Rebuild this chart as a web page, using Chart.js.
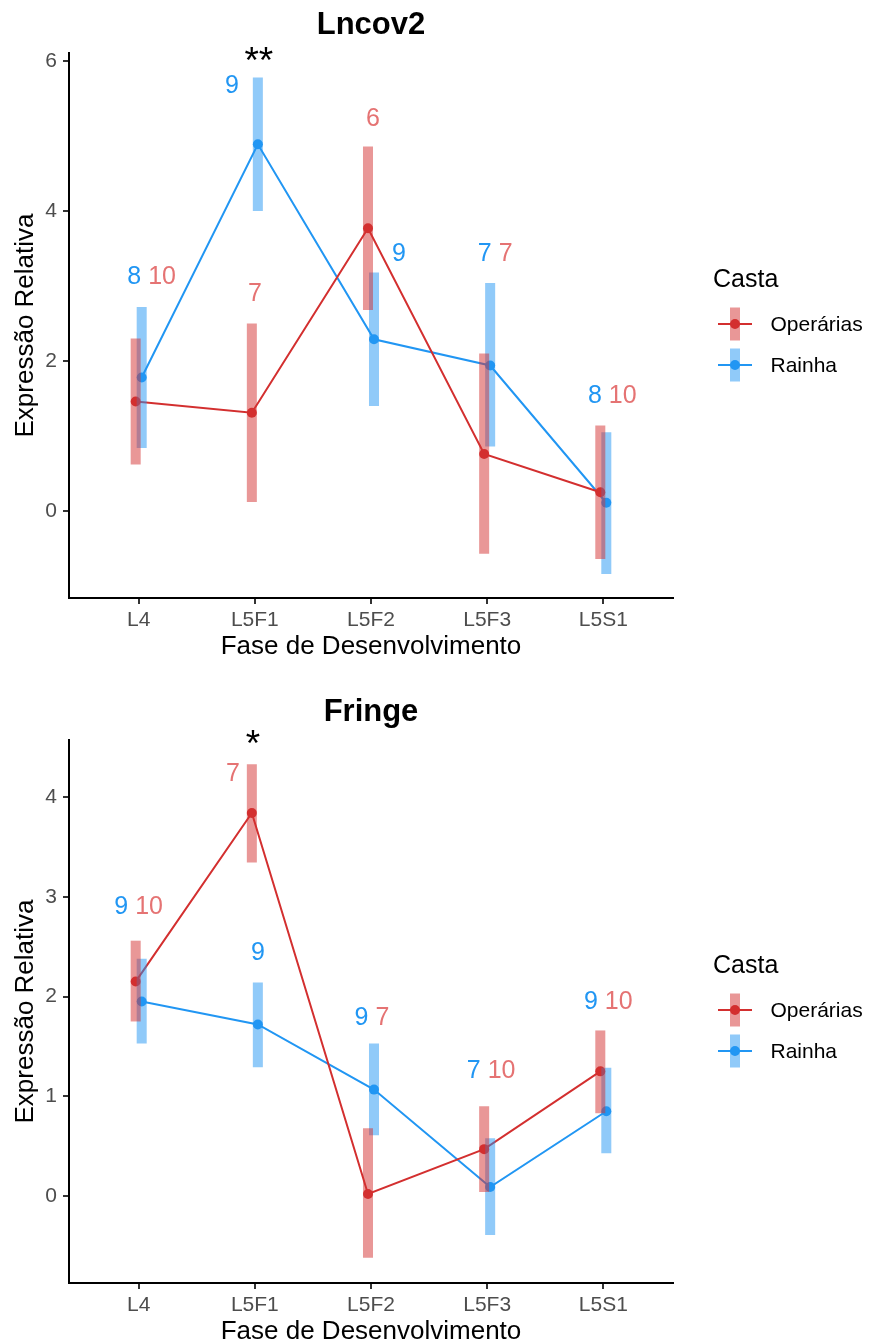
<!DOCTYPE html>
<html>
<head>
<meta charset="utf-8">
<script src="https://cdn.jsdelivr.net/npm/chart.js@4.4.0/dist/chart.umd.min.js"></script>
<style>
html,body{margin:0;padding:0;background:#fff;}
.wrap{position:absolute;left:0;width:869px;height:672px;}
canvas{display:block;}
</style>
</head>
<body>
<div class="wrap" style="top:0"><canvas id="c1" width="869" height="672"></canvas></div>
<div class="wrap" style="top:672px"><canvas id="c2" width="869" height="672"></canvas></div>
<script>
// ---------- data ----------
const categories = ['L4', 'L5F1', 'L5F2', 'L5F3', 'L5S1'];
const seriesNames = ['Operárias', 'Rainha'];

// Lncov2
const lncOperMean = [1.46, 1.31, 3.77, 0.76, 0.25];
const lncOperLow  = [0.62, 0.12, 2.68, -0.57, -0.64];
const lncOperHigh = [2.30, 2.50, 4.86, 2.10, 1.14];
const lncRainMean = [1.78, 4.89, 2.29, 1.94, 0.11];
const lncRainLow  = [0.84, 4.00, 1.40, 0.86, -0.84];
const lncRainHigh = [2.72, 5.78, 3.18, 3.04, 1.05];
const lncNOper = [10, 7, 6, 7, 10];
const lncNRain = [8, 9, 9, 7, 8];
const lncSig = ['', '**', '', '', ''];
const lncYTicks = [0, 2, 4, 6];

// Fringe
const frOperMean = [2.15, 3.84, 0.02, 0.47, 1.25];
const frOperLow  = [1.75, 3.345, -0.62, 0.04, 0.83];
const frOperHigh = [2.56, 4.33, 0.68, 0.90, 1.66];
const frRainMean = [1.95, 1.72, 1.067, 0.09, 0.85];
const frRainLow  = [1.53, 1.29, 0.61, -0.39, 0.43];
const frRainHigh = [2.38, 2.14, 1.53, 0.58, 1.287];
const frNOper = [10, 7, 7, 10, 10];
const frNRain = [9, 9, 9, 7, 9];
const frSig = ['', '*', '', '', ''];
const frYTicks = [0, 1, 2, 3, 4];

// ---------- style ----------
const FONT = "'Liberation Sans', Arial, sans-serif";
Chart.defaults.font.family = FONT;
const RED = '#D32F2F', BLUE = '#2196F3';
const RED_BAR = 'rgba(211,47,47,0.5)', BLUE_BAR = 'rgba(33,150,243,0.5)';
const RED_TXT = '#E57373', BLUE_TXT = '#2196F3';
const CAT_PCT = 0.1034, BAR_PCT = 1.667;
const DODGE = CAT_PCT / 4;

function makeDeco(s) {
  return {
    id: 'deco',
    afterDraw(chart) {
      const {ctx, chartArea: ca, scales: {x, y}} = chart;
      const cx = (ca.left + ca.right) / 2;
      const cy = (ca.top + ca.bottom) / 2;
      ctx.save();
      // title
      ctx.fillStyle = '#000';
      ctx.textAlign = 'center';
      ctx.textBaseline = 'alphabetic';
      ctx.font = 'bold 31px ' + FONT;
      ctx.fillText(s.title, cx, ca.top - 19.5);
      // x title
      ctx.font = '26px ' + FONT;
      ctx.fillText('Fase de Desenvolvimento', cx, ca.bottom + 56);
      // y title
      ctx.save();
      ctx.translate(33, cy);
      ctx.rotate(-Math.PI / 2);
      ctx.fillText('Expressão Relativa', 0, 0);
      ctx.restore();
      // n labels
      ctx.font = '25px ' + FONT;
      ctx.textBaseline = 'middle';
      ctx.textAlign = 'left';
      s.labels.forEach(l => {
        const px = x.getPixelForValue(l.i) + l.dx;
        const py = y.getPixelForValue(l.y);
        const parts = l.parts.map(p => p === 'R'
          ? {t: String(s.nRain[l.i]), c: BLUE_TXT}
          : {t: String(s.nOper[l.i]), c: RED_TXT});
        const full = parts.map(p => p.t).join(' ');
        let start = px - ctx.measureText(full).width / 2;
        parts.forEach(p => {
          ctx.fillStyle = p.c;
          ctx.fillText(p.t, start, py);
          start += ctx.measureText(p.t + ' ').width;
        });
      });
      // significance stars
      ctx.fillStyle = '#000';
      ctx.textAlign = 'center';
      ctx.textBaseline = 'alphabetic';
      ctx.font = '37px ' + FONT;
      s.sig.forEach((t, i) => {
        if (!t) return;
        ctx.fillText(t, x.getPixelForValue(i) + s.star.dx, y.getPixelForValue(s.star.y));
      });
      // legend
      const lx = 713;
      ctx.textAlign = 'left';
      ctx.textBaseline = 'middle';
      ctx.fillStyle = '#000';
      ctx.font = '25px ' + FONT;
      ctx.fillText('Casta', lx, cy - 45);
      const items = [
        {name: seriesNames[0], line: RED, bar: RED_BAR, dy: -1.5},
        {name: seriesNames[1], line: BLUE, bar: BLUE_BAR, dy: 39.5}
      ];
      ctx.font = '21px ' + FONT;
      items.forEach(it => {
        const iy = cy + it.dy;
        ctx.strokeStyle = it.line;
        ctx.lineWidth = 2;
        ctx.beginPath();
        ctx.moveTo(718, iy);
        ctx.lineTo(752, iy);
        ctx.stroke();
        ctx.fillStyle = it.line;
        ctx.beginPath();
        ctx.arc(735, iy, 5, 0, Math.PI * 2);
        ctx.fill();
        ctx.fillStyle = it.bar;
        ctx.fillRect(730, iy - 16.5, 10, 33);
        ctx.fillStyle = '#000';
        ctx.fillText(it.name, 770.5, iy + 1);
      });
      ctx.restore();
    }
  };
}

function build(id, s) {
  const lineDs = (name, mean, color, off) => ({
    type: 'line', label: name,
    data: mean.map((v, i) => ({x: i + off, y: v})),
    borderColor: color, backgroundColor: color, borderWidth: 2,
    pointRadius: 5, pointHoverRadius: 5, pointBorderWidth: 0,
    pointBackgroundColor: color, tension: 0, order: 2
  });
  const barDs = (name, low, high, color) => ({
    type: 'bar', label: name,
    data: low.map((lo, i) => ({x: i, y: [lo, high[i]]})),
    backgroundColor: color, borderWidth: 0,
    categoryPercentage: CAT_PCT, barPercentage: BAR_PCT, order: 1
  });
  const gridOpt = () => ({display: true, drawOnChartArea: false, drawTicks: true, tickLength: 6, tickWidth: 2, tickColor: '#333', color: '#333', lineWidth: 2, offset: false});
  const borderOpt = () => ({display: true, color: '#000', width: 2});
  new Chart(document.getElementById(id), {
    type: 'line',
    data: {
      datasets: [
        lineDs(seriesNames[0], s.operMean, RED, -DODGE),
        lineDs(seriesNames[1], s.rainMean, BLUE, DODGE),
        barDs(seriesNames[0], s.operLow, s.operHigh, RED_BAR),
        barDs(seriesNames[1], s.rainLow, s.rainHigh, BLUE_BAR)
      ]
    },
    options: {
      responsive: false,
      animation: false,
      events: [],
      layout: {padding: {top: s.padTop, right: 196, bottom: 0, left: 0}},
      plugins: {legend: {display: false}, tooltip: {enabled: false}, title: {display: false}},
      scales: {
        x: {
          type: 'linear', min: -0.6, max: 4.6, offset: false,
          afterBuildTicks: ax => { ax.ticks = categories.map((c, i) => ({value: i})); },
          ticks: {callback: v => categories[v] ?? '', color: '#4D4D4D', font: {size: 21}, padding: 4, maxRotation: 0, autoSkip: false},
          grid: gridOpt(), border: borderOpt(),
          afterFit: sc => { sc.height = s.xHeight; }
        },
        y: {
          type: 'linear', min: s.yMin, max: s.yMax,
          afterBuildTicks: ax => { ax.ticks = s.yTicks.map(v => ({value: v})); },
          ticks: {callback: v => String(v), color: '#4D4D4D', font: {size: 21}, padding: 6},
          grid: gridOpt(), border: borderOpt(),
          afterFit: sc => { sc.width = 69; }
        }
      }
    },
    plugins: [makeDeco(s)]
  });
}

build('c1', {
  title: 'Lncov2',
  operMean: lncOperMean, operLow: lncOperLow, operHigh: lncOperHigh,
  rainMean: lncRainMean, rainLow: lncRainLow, rainHigh: lncRainHigh,
  nOper: lncNOper, nRain: lncNRain, sig: lncSig, yTicks: lncYTicks,
  yMin: -1.16, yMax: 6.107, padTop: 53, xHeight: 74,
  star: {y: 5.84, dx: 4},
  labels: [
    {i: 0, y: 3.12, dx: 13, parts: ['R', 'O']},
    {i: 1, y: 5.67, dx: -23, parts: ['R']},
    {i: 1, y: 2.89, dx: 0, parts: ['O']},
    {i: 2, y: 5.23, dx: 2, parts: ['O']},
    {i: 2, y: 3.42, dx: 28, parts: ['R']},
    {i: 3, y: 3.43, dx: 8, parts: ['R', 'O']},
    {i: 4, y: 1.53, dx: 9, parts: ['R', 'O']}
  ]
});

build('c2', {
  title: 'Fringe',
  operMean: frOperMean, operLow: frOperLow, operHigh: frOperHigh,
  rainMean: frRainMean, rainLow: frRainLow, rainHigh: frRainHigh,
  nOper: frNOper, nRain: frNRain, sig: frSig, yTicks: frYTicks,
  yMin: -0.872, yMax: 4.572, padTop: 68, xHeight: 61,
  star: {y: 4.41, dx: -2},
  labels: [
    {i: 0, y: 2.90, dx: 0, parts: ['R', 'O']},
    {i: 1, y: 4.23, dx: -22, parts: ['O']},
    {i: 1, y: 2.44, dx: 3, parts: ['R']},
    {i: 2, y: 1.78, dx: 1, parts: ['R', 'O']},
    {i: 3, y: 1.25, dx: 4, parts: ['R', 'O']},
    {i: 4, y: 1.945, dx: 5, parts: ['R', 'O']}
  ]
});
</script>
</body>
</html>
